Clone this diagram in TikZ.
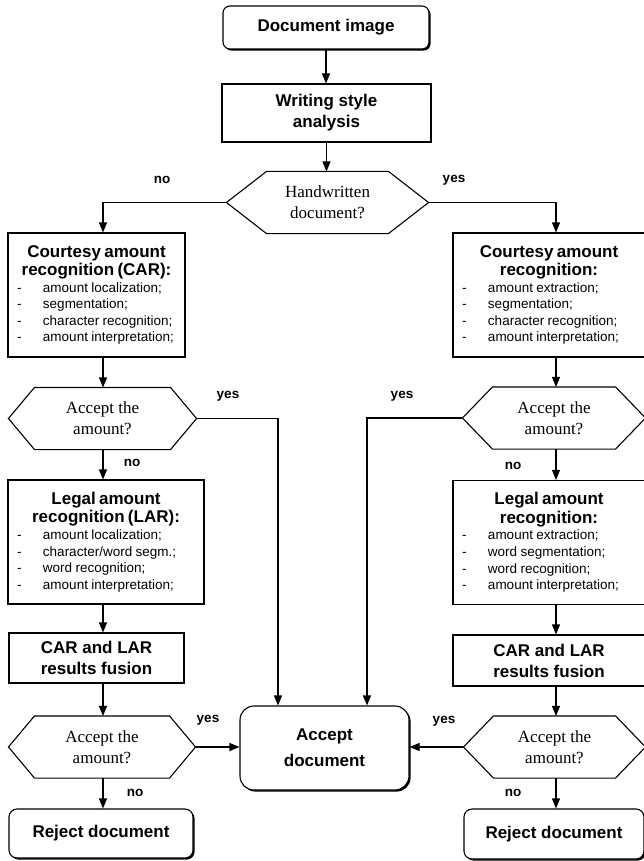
\documentclass[tikz,border=0pt]{standalone}
\usepackage{fontspec}
\setmainfont{Liberation Sans}
\newfontfamily\timesfont{Liberation Serif}
\usetikzlibrary{arrows.meta,shadows}

\newcommand{\boxhead}{\bfseries\fontsize{17}{18.5}\selectfont}
\newcommand{\boxlist}{\mdseries\fontsize{13.5}{16.6}\selectfont}
\newcommand{\dashitem}{\makebox[26pt][l]{-}}

\begin{document}
\begin{tikzpicture}[x=1pt,y=-1pt,line width=1.1pt,>={Triangle[length=10pt,width=8pt]},
  plainbox/.style={draw,fill=white,align=center,inner sep=0pt,font=\bfseries\fontsize{17}{21}\selectfont},
  roundbox/.style={plainbox,rounded corners=#1,drop shadow={shadow xshift=1.6pt,shadow yshift=-1.6pt,fill=black,opacity=1}},
  listbox/.style={draw,fill=white,align=left,inner xsep=9pt,inner ysep=0pt,text width=#1,minimum height=124pt},
  hexa/.style={minimum width=#1,minimum height=61pt,inner sep=0pt,align=center,font=\timesfont\fontsize{17}{21}\selectfont},
  lbl/.style={font=\bfseries\fontsize{13.5}{15}\selectfont}]
\useasboundingbox (0,0) rectangle (644,861);
\clip (0,0) rectangle (644,861);

\coordinate (colL) at (103,0);
\coordinate (colR) at (556,0);
\coordinate (yesL) at (278,0);
\coordinate (yesR) at (367,0);

% top
\node[roundbox=7pt,minimum width=206pt,minimum height=43pt] (doc) at (326,27.5) {Document image};
\node[plainbox,minimum width=209pt,minimum height=58pt] (wsa) at (326.5,113) {Writing style\\analysis};
\node[hexa=201pt] (hw) at (327.5,202.5) {Handwritten\\document?};
\draw (hw.west) -- ([xshift=40pt]hw.north west) -- ([xshift=-40pt]hw.north east) -- (hw.east) -- ([xshift=-40pt]hw.south east) -- ([xshift=40pt]hw.south west) -- cycle;
\node[lbl] (no0) at (162,180) {no};
\node[lbl] (yes0) at (454,180) {yes};

% left column
\node[listbox=159pt] (carl) at (96.5,295) {{\centering\boxhead Courtesy amount\\recognition (CAR):\par}
\boxlist\dashitem amount localization;\\
\dashitem segmentation;\\
\dashitem character recognition;\\
\dashitem amount interpretation;\par};
\node[hexa=187pt] (acl) at (102.5,418.5) {Accept the\\amount?};
\draw (acl.west) -- ([xshift=26pt]acl.north west) -- ([xshift=-26pt]acl.north east) -- (acl.east) -- ([xshift=-26pt]acl.south east) -- ([xshift=26pt]acl.south west) -- cycle;
\node[listbox=178pt] (larl) at (106,542) {{\centering\boxhead Legal amount\\recognition (LAR):\par}
\boxlist\dashitem amount localization;\\
\dashitem character/word segm.;\\
\dashitem word recognition;\\
\dashitem amount interpretation;\par};
\node[plainbox,minimum width=175pt,minimum height=50pt] (fusl) at (96.5,658) {CAR and LAR\\results fusion};
\node[hexa=186pt] (fal) at (102,747) {Accept the\\amount?};
\draw (fal.west) -- ([xshift=26pt]fal.north west) -- ([xshift=-26pt]fal.north east) -- (fal.east) -- ([xshift=-26pt]fal.south east) -- ([xshift=26pt]fal.south west) -- cycle;
\node[roundbox=8pt,minimum width=184pt,minimum height=49pt] (rejl) at (101,833.5) {Reject document};
\node[lbl] (yes1) at (228,396) {yes};
\node[lbl] (no1) at (132,463) {no};
\node[lbl] (yes3) at (208,720) {yes};
\node[lbl] (no3) at (135,793) {no};

% centre
\node[roundbox=14pt,minimum width=169pt,minimum height=84pt] (acc) at (324.5,748) {Accept\\[5pt]document};

% right column
\node[listbox=174pt] (carr) at (549,295) {{\centering\boxhead Courtesy amount\\recognition:\par}
\boxlist\dashitem amount extraction;\\
\dashitem segmentation;\\
\dashitem character recognition;\\
\dashitem amount interpretation;\par};
\node[hexa=182pt] (acr) at (554,418) {Accept the\\amount?};
\draw (acr.west) -- ([xshift=30pt]acr.north west) -- ([xshift=-30pt]acr.north east) -- (acr.east) -- ([xshift=-30pt]acr.south east) -- ([xshift=30pt]acr.south west) -- cycle;
\node[listbox=174pt] (larr) at (549,542.5) {{\centering\boxhead Legal amount\\recognition:\par}
\boxlist\dashitem amount extraction;\\
\dashitem word segmentation;\\
\dashitem word recognition;\\
\dashitem amount interpretation;\par};
\node[plainbox,minimum width=192pt,minimum height=51pt] (fusr) at (549,660.5) {CAR and LAR\\results fusion};
\node[hexa=181pt] (far) at (554.5,747) {Accept the\\amount?};
\draw (far.west) -- ([xshift=30pt]far.north west) -- ([xshift=-30pt]far.north east) -- (far.east) -- ([xshift=-30pt]far.south east) -- ([xshift=30pt]far.south west) -- cycle;
\node[roundbox=8pt,minimum width=180pt,minimum height=50pt] (rejr) at (554,834) {Reject document};
\node[lbl] (yes2) at (402,396) {yes};
\node[lbl] (no2) at (513,466) {no};
\node[lbl] (yes4) at (444,721) {yes};
\node[lbl] (no4) at (513,793) {no};

% connectors
\draw[->] (doc.south) -- (doc.south |- wsa.north);
\draw[->] (wsa.south) -- (wsa.south |- hw.north);
\draw[->] (hw.west) -| (carl.north -| colL);
\draw[->] (hw.east) -| (carr.north -| colR);

\draw[->] (carl.south -| colL) -- (acl.north -| colL);
\draw[->] (acl.south -| colL) -- (larl.north -| colL);
\draw[->] (larl.south -| colL) -- (fusl.north -| colL);
\draw[->] (fusl.south -| colL) -- (fal.north -| colL);
\draw[->] (fal.south -| colL) -- (rejl.north -| colL);

\draw[->] (carr.south -| colR) -- (acr.north -| colR);
\draw[->] (acr.south -| colR) -- (larr.north -| colR);
\draw[->] (larr.south -| colR) -- (fusr.north -| colR);
\draw[->] (fusr.south -| colR) -- (far.north -| colR);
\draw[->] (far.south -| colR) -- (rejr.north -| colR);

\draw[->] (acl.east) -| (acc.north -| yesL);
\draw[->] (acr.west) -| (acc.north -| yesR);
\draw[->] (fal.east) -- (fal.east -| acc.west);
\draw[->] (far.west) -- (far.west -| acc.east);

\end{tikzpicture}
\end{document}
